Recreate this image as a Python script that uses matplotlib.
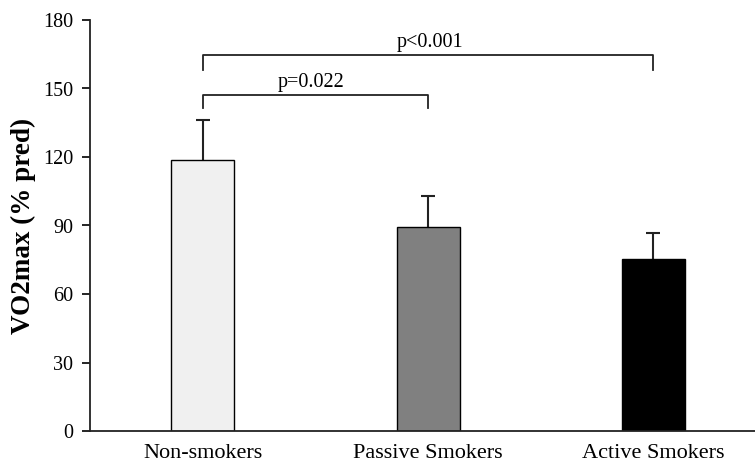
import matplotlib
matplotlib.use("Agg")
import matplotlib.pyplot as plt
import numpy as np

categories = ["Non-smokers", "Passive Smokers", "Active Smokers"]
means = [118.5, 89.5, 75.5]
sds = [17.5, 13.5, 11.0]
colors = ["#f0f0f0", "#808080", "#000000"]
yticks = [0, 30, 60, 90, 120, 150, 180]
comparisons = [(0, 1, "p=0.022", 141.5, 147.0), (0, 2, "p<0.001", 158.0, 164.7)]
comp_text_x = [0.48, 1.01]

plt.rcParams['font.family'] = ['Liberation Serif', 'DejaVu Serif']

fig = plt.figure(figsize=(7.55, 4.65), dpi=100)
ax = fig.add_axes([90/755, 34/465, 1 - 90/755, 411/465])

x = np.arange(len(categories))
ax.bar(x, means, width=0.28, color=colors, edgecolor="black", linewidth=1.0, zorder=2)
_, caplines, _ = ax.errorbar(x, means, yerr=[np.zeros(len(sds)), sds], fmt="none",
                             ecolor="#222222", elinewidth=1.5, capsize=5, capthick=1.5,
                             zorder=1)
caplines[0].set_visible(False)

for (i, j, label, ylow, yhigh), tx in zip(comparisons, comp_text_x):
    ax.plot([x[i], x[i], x[j], x[j]], [ylow, yhigh, yhigh, ylow], color="#222222", lw=1.3,
            clip_on=False)
    ax.text(tx, yhigh + 1.5, label, ha="center", va="bottom", fontsize=14.5)

ax.set_xlim(-0.502, 2.453)
ax.set_ylim(0, 180)
ax.set_yticks(yticks)
ax.set_xticks(x)
ax.set_xticklabels(categories, fontsize=16)
ax.tick_params(axis="x", length=0, pad=9)
ax.tick_params(axis="y", labelsize=14.5, direction="out", length=6, width=1.2, pad=6)
for s in ["top", "right"]:
    ax.spines[s].set_visible(False)
for s in ["left", "bottom"]:
    ax.spines[s].set_linewidth(1.3)
    ax.spines[s].set_color("#222222")
ax.set_ylabel("VO2max (% pred)", fontsize=19.5, fontweight="bold", labelpad=5)

fig.savefig("out.png", dpi=100)
